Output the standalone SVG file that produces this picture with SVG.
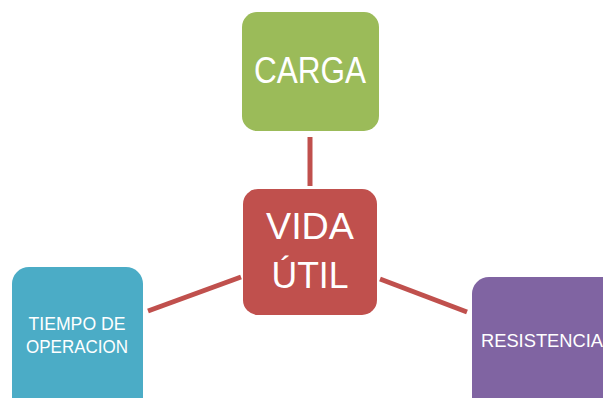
<svg xmlns="http://www.w3.org/2000/svg" width="603" height="398" viewBox="0 0 603 398">
  <style>
    .node text { fill: #ffffff; font-family: "Liberation Sans", Arial, sans-serif; text-anchor: middle; }
    .big { font-size: 36px; }
    .small { font-size: 18px; }
    .link { stroke: #C0504D; stroke-width: 5; fill: none; }
  </style>
  <rect width="603" height="398" fill="#ffffff"/>
  <g id="connectors">
    <line class="link" x1="310" y1="137" x2="310" y2="186"/>
    <line class="link" x1="148" y1="311" x2="241" y2="277"/>
    <line class="link" x1="380" y1="279" x2="467" y2="312"/>
  </g>
  <g id="carga" class="node">
    <rect x="242" y="12" width="137" height="119" rx="15" fill="#9BBB59"/>
    <text class="big" x="310" y="83" textLength="112" lengthAdjust="spacingAndGlyphs">CARGA</text>
  </g>
  <g id="vida-util" class="node">
    <rect x="243" y="189" width="134" height="126" rx="15" fill="#C0504D"/>
    <text class="big" x="310" y="239" textLength="88" lengthAdjust="spacingAndGlyphs">VIDA</text>
    <text class="big" x="310" y="288" textLength="77" lengthAdjust="spacingAndGlyphs">ÚTIL</text>
  </g>
  <g id="tiempo" class="node">
    <rect x="12" y="267" width="131" height="150" rx="17" fill="#4BACC6"/>
    <text class="small" x="77" y="330" textLength="97" lengthAdjust="spacingAndGlyphs">TIEMPO DE</text>
    <text class="small" x="77" y="353" textLength="102" lengthAdjust="spacingAndGlyphs">OPERACION</text>
  </g>
  <g id="resistencia" class="node">
    <rect x="472" y="277" width="150" height="140" rx="17" fill="#8064A2"/>
    <text class="small" x="542" y="347" textLength="122" lengthAdjust="spacingAndGlyphs">RESISTENCIA</text>
  </g>
</svg>
